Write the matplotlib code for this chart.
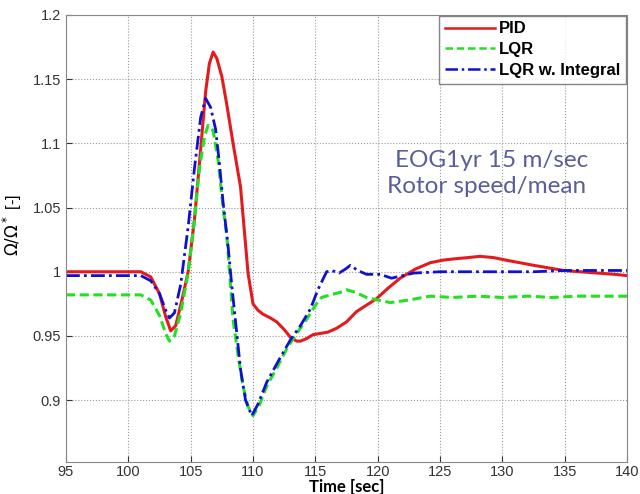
import matplotlib.pyplot as plt

# PID
t_pid = [95, 97, 99, 100, 101, 101.8, 102.5, 103.0, 103.4, 103.8, 104.3, 104.8, 105.3, 105.8,
         106.2, 106.5, 106.8, 107.1, 107.5, 107.9, 108.4, 109.0, 109.6, 110.0, 110.4, 110.8,
         111.4, 111.9, 112.5, 113.0, 113.5, 113.8, 114.3, 114.8, 115.4, 116.0, 116.7, 117.5,
         118.3, 119.1, 119.9, 120.8, 121.8, 123.0, 124.2, 125.2, 126.1, 127.2, 128.2, 129.3,
         130.3, 131.4, 132.5, 133.7, 134.9, 136.2, 137.6, 139.0, 140]
v_pid = [1.000, 1.000, 1.000, 1.000, 1.000, 0.996, 0.983, 0.965, 0.954, 0.958, 0.978, 1.000,
         1.040, 1.095, 1.140, 1.162, 1.171, 1.166, 1.152, 1.130, 1.100, 1.066, 0.999, 0.975,
         0.970, 0.967, 0.964, 0.961, 0.955, 0.949, 0.946, 0.946, 0.948, 0.951, 0.952, 0.953,
         0.956, 0.961, 0.969, 0.974, 0.979, 0.987, 0.995, 1.002, 1.007, 1.009, 1.010, 1.011,
         1.012, 1.011, 1.009, 1.007, 1.005, 1.003, 1.001, 1.000, 0.999, 0.998, 0.997]

# LQR
t_lqr = [95, 97, 99, 100, 101, 101.8, 102.5, 103.0, 103.3, 103.7, 104.2, 104.8, 105.3, 105.7,
         106.1, 106.4, 106.8, 107.2, 107.6, 107.9, 108.4, 108.8, 109.2, 109.6, 110.0, 110.5,
         111.1, 111.9, 112.7, 113.5, 114.3, 115.0, 115.5, 116.2, 117.0, 117.5, 118.2, 119.1,
         120.0, 121.0, 122.5, 124.2, 126, 128, 130, 132, 134, 136, 138, 140]
v_lqr = [0.982, 0.982, 0.982, 0.982, 0.982, 0.978, 0.966, 0.952, 0.946, 0.950, 0.968, 0.999,
         1.040, 1.080, 1.105, 1.114, 1.110, 1.087, 1.050, 1.028, 0.963, 0.935, 0.911, 0.895,
         0.888, 0.896, 0.911, 0.925, 0.940, 0.952, 0.963, 0.974, 0.980, 0.982, 0.984, 0.986,
         0.984, 0.980, 0.978, 0.976, 0.978, 0.981, 0.980, 0.981, 0.980, 0.981, 0.980, 0.981,
         0.981, 0.981]

# LQR w. Integral
t_int = [95, 97, 99, 100, 101, 101.8, 102.5, 103.0, 103.3, 103.7, 104.2, 104.8, 105.3, 105.8,
         106.2, 106.6, 107.0, 107.3, 107.6, 108.0, 108.3, 108.7, 109.0, 109.4, 109.9, 110.4,
         111.1, 112.0, 113.0, 113.8, 114.6, 115.2, 115.9, 116.3, 116.9, 117.4, 117.8, 118.4,
         119.1, 120.2, 121.1, 122.0, 122.9, 125, 127.5, 130, 132.5, 135, 137.5, 140]
v_int = [0.997, 0.997, 0.997, 0.997, 0.997, 0.993, 0.983, 0.970, 0.964, 0.968, 0.990, 1.035,
         1.080, 1.120, 1.135, 1.128, 1.111, 1.085, 1.054, 1.020, 0.989, 0.952, 0.924, 0.900,
         0.888, 0.897, 0.914, 0.930, 0.947, 0.958, 0.971, 0.986, 1.000, 1.001, 0.999, 1.002,
         1.005, 1.001, 0.998, 0.998, 0.995, 0.997, 0.999, 1.000, 1.000, 1.000, 1.000, 1.001,
         1.001, 1.001]

plt.rcParams['font.family'] = ['Liberation Sans', 'DejaVu Sans']

fig = plt.figure(figsize=(6.4, 4.94), dpi=100)
ax = fig.add_axes([0.103, 0.065, 0.877, 0.905])

ax.plot(t_pid, v_pid, color='#e41a1c', lw=2.2, ls='-', label='PID')
ax.plot(t_lqr, v_lqr, color='#22e022', lw=2.2, ls=(0, (3, 1.5)), label='LQR')
ax.plot(t_int, v_int, color='#1010d0', lw=2.0, ls=(0, (5, 1.5, 1, 1.5)), label='LQR w. Integral')

ax.set_xlim(95, 140)
ax.set_ylim(0.852, 1.2)
ax.set_xticks(range(95, 141, 5))
ax.set_yticks([0.9, 0.95, 1.0, 1.05, 1.1, 1.15, 1.2])
ax.set_yticklabels(['0.9', '0.95', '1', '1.05', '1.1', '1.15', '1.2'])
ax.grid(True, ls=':', color='#999999', lw=0.8)
ax.tick_params(direction='in', labelsize=10.5, colors='#333333', length=4)
ax.tick_params(axis='x', pad=2)
for s in ax.spines.values():
    s.set_color('#888888')

ax.set_xlabel('Time [sec]', fontsize=12, fontweight='bold', family='Lato', labelpad=0)
ax.set_ylabel(r'$\Omega/\Omega^*$ [-]', fontsize=12, labelpad=4)
ax.yaxis.set_label_coords(-0.075, 0.53)

leg = ax.legend(loc='upper right', prop={'weight': 'bold', 'size': 12},
                fancybox=False, edgecolor='#666666', handlelength=3.0, handletextpad=0.25,
                borderaxespad=0.05, labelspacing=0.35, borderpad=0.35)
leg.get_frame().set_linewidth(1.0)
for h in leg.get_lines():
    h.set_linewidth(1.8)

ax.text(0.759, 0.675, 'EOG1yr 15 m/sec', transform=ax.transAxes, fontsize=17.5,
        color='#5a5e9a', family='Lato', ha='center', va='center')
ax.text(0.750, 0.615, 'Rotor speed/mean', transform=ax.transAxes, fontsize=17.5,
        color='#5a5e9a', family='Lato', ha='center', va='center')

fig.savefig('out.png', dpi=100)
